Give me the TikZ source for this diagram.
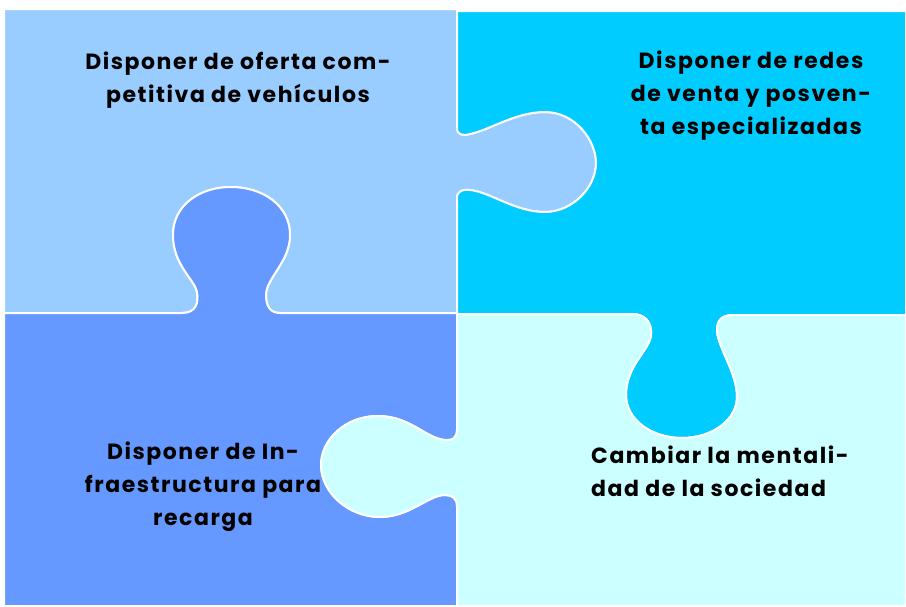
\documentclass[tikz,border=0pt]{standalone}
\usepackage{fontspec}
\setsansfont{Poppins}[LetterSpace=7]
\definecolor{pieceA}{HTML}{99CCFF}
\definecolor{pieceB}{HTML}{00CCFF}
\definecolor{pieceC}{HTML}{6699FF}
\definecolor{pieceD}{HTML}{CCFFFF}
\tikzset{
  piece/.style={draw=white, line width=2pt, line join=round},
  txt/.style={font=\sffamily\bfseries\fontsize{22}{33}\selectfont, align=center, text=black, inner sep=0pt}
}

\begin{document}
\begin{tikzpicture}[x=1pt,y=-1pt]
      \useasboundingbox (0,0) rectangle (906,606);
      \fill[white] (0,0) rectangle (906,606);
      % top left piece
      \filldraw[piece, fill=pieceA] (4,9) -- (457,9) -- (457,128)
        .. controls (457,135) and (463,136) .. (470,134)
        .. controls (490,130) and (515,112) .. (545,112)
        .. controls (575,112) and (596,140) .. (596,163)
        .. controls (596,188) and (572,212) .. (545,212)
        .. controls (515,212) and (490,192) .. (470,190)
        .. controls (463,189) and (457,191) .. (457,198)
        -- (457,313) -- (280,313)
        .. controls (270,313) and (266,306) .. (266,295)
        .. controls (266,278) and (290,262) .. (290,235)
        .. controls (290,205) and (262,187) .. (231,187)
        .. controls (200,187) and (173,205) .. (173,235)
        .. controls (173,265) and (195,280) .. (197,292)
        .. controls (199,303) and (196,313) .. (182,313)
        -- (4,313) -- cycle;
      % top right piece
      \filldraw[piece, fill=pieceB] (457,11) -- (906,11) -- (906,315) -- (734,315)
        .. controls (724,315) and (718,318) .. (717,328)
        .. controls (716,345) and (736,370) .. (737,395)
        .. controls (738,420) and (712,438) .. (682,438)
        .. controls (652,438) and (626,420) .. (626,395)
        .. controls (626,365) and (650,350) .. (651,335)
        .. controls (652,322) and (645,314) .. (632,314)
        -- (457,314) -- (457,198)
        .. controls (457,191) and (463,189) .. (470,190)
        .. controls (490,192) and (515,212) .. (545,212)
        .. controls (572,212) and (596,188) .. (596,163)
        .. controls (596,140) and (575,112) .. (545,112)
        .. controls (515,112) and (490,130) .. (470,134)
        .. controls (463,136) and (457,135) .. (457,128)
        -- cycle;
      % bottom left piece
      \filldraw[piece, fill=pieceC] (4,313) -- (182,313)
        .. controls (196,313) and (199,303) .. (197,292)
        .. controls (195,280) and (173,265) .. (173,235)
        .. controls (173,205) and (200,187) .. (231,187)
        .. controls (262,187) and (290,205) .. (290,235)
        .. controls (290,262) and (266,278) .. (266,295)
        .. controls (266,306) and (270,313) .. (280,313)
        -- (457,313) -- (457,430)
        .. controls (457,438) and (452,441) .. (445,440)
        .. controls (425,438) and (410,416) .. (378,416)
        .. controls (345,416) and (321,440) .. (321,465)
        .. controls (321,492) and (348,517) .. (380,517)
        .. controls (410,517) and (428,495) .. (445,495)
        .. controls (452,495) and (457,498) .. (457,506)
        -- (457,606) -- (4,606) -- cycle;
      % bottom right piece
      \filldraw[piece, fill=pieceD] (457,314) -- (632,314)
        .. controls (645,314) and (652,322) .. (651,335)
        .. controls (650,350) and (626,365) .. (626,395)
        .. controls (626,420) and (652,438) .. (682,438)
        .. controls (712,438) and (738,420) .. (737,395)
        .. controls (736,370) and (716,345) .. (717,328)
        .. controls (718,318) and (724,315) .. (734,315)
        -- (906,315) -- (906,606) -- (457,606) -- (457,506)
        .. controls (457,498) and (452,495) .. (445,495)
        .. controls (428,495) and (410,517) .. (380,517)
        .. controls (348,517) and (321,492) .. (321,465)
        .. controls (321,440) and (345,416) .. (378,416)
        .. controls (410,416) and (425,438) .. (445,440)
        .. controls (452,441) and (457,438) .. (457,430)
        -- cycle;
      % texts
      \node[txt] (oferta) at (238,80) {Disponer de oferta com-\\petitiva de vehículos};
      \node[txt] (redes) at (751,96) {Disponer de redes\\de venta y posven-\\ta especializadas};
      \node[txt] (recarga) at (203,487) {Disponer de In-\\fraestructura para\\recarga};
      \node[txt, align=left, anchor=west] (mentalidad) at (591,471) {Cambiar la mentali-\\dad de la sociedad};
    \end{tikzpicture}
\end{document}
